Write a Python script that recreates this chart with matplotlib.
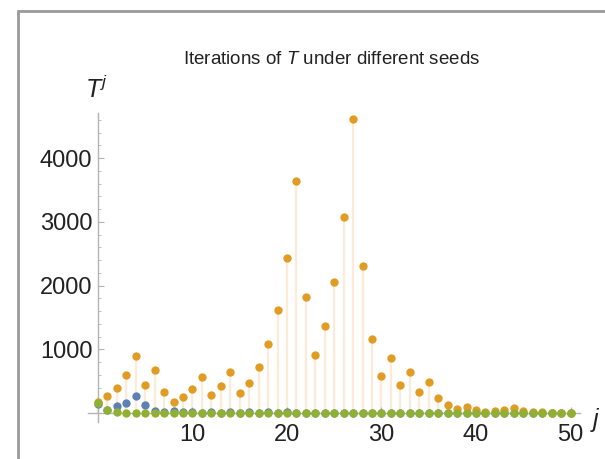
import numpy as np
import matplotlib
matplotlib.use("Agg")
import matplotlib.pyplot as plt
from matplotlib.patches import Rectangle
from matplotlib.ticker import MultipleLocator

plt.rcParams['font.family'] = ['Liberation Sans', 'DejaVu Sans']
plt.rcParams['mathtext.fontset'] = 'custom'
plt.rcParams['mathtext.rm'] = 'Liberation Sans'
plt.rcParams['mathtext.it'] = 'Liberation Sans:italic'

# iteration index
j = np.arange(0, 51)

# seed 1 (blue)
blue = [150, 55, 110, 160, 265, 120, 40, 20, 35, 15, 10, 5, 10, 5, 20, 5, 18, 5, 18, 5,
        20, 2, 4, 2, 4, 2, 4, 2, 4, 2, 4, 2, 4, 2, 4, 2, 4, 2, 4, 2,
        4, 2, 4, 2, 4, 2, 4, 2, 4, 2, 4]

# seed 2 (orange)
orange = [175, 263, 395, 593, 890, 445, 668, 334, 167, 251, 377, 566, 283, 425, 638, 319,
          479, 719, 1079, 1619, 2429, 3644, 1822, 911, 1367, 2051, 3077, 4616, 2308, 1154,
          577, 866, 433, 650, 325, 488, 244, 122, 61, 92, 46, 23, 35, 53, 80, 40, 20, 10,
          5, 8, 4]

# seed 3 (green)
green = [160, 50, 15, 6, 6, 6, 6, 6, 6, 6, 6, 6, 6, 6, 6, 6, 6, 6, 6, 6,
         6, 2, 8, 2, 8, 2, 8, 2, 8, 2, 8, 2, 8, 2, 8, 2, 8, 2, 8, 2,
         8, 2, 8, 2, 8, 2, 8, 2, 8, 2, 8]

c_blue = '#5E81B5'
c_orange = '#E19C24'
c_green = '#8FB032'

W, H = 605, 459
fig = plt.figure(figsize=(W / 100, H / 100), dpi=100)

# plot area in pixels
x0, x1 = 88, 580
y_top, y_bot = 113, 422
ax = fig.add_axes([x0 / W, (H - y_bot) / H, (x1 - x0) / W, (y_bot - y_top) / H])
ax.set_xlim(-1.05, 51.0)
ax.set_ylim(-140, 4706)
ax.patch.set_visible(False)

# filling to axis
ax.vlines(j, 0, blue, color='#E2E9F3', lw=1.5, zorder=1)
ax.vlines(j, 0, orange, color='#FCEBD6', lw=1.6, zorder=1)
ax.vlines(j, 0, green, color='#E8EFD3', lw=1.5, zorder=1)

ax.plot(j, blue, 'o', color=c_blue, ms=6.0, mew=0, zorder=3, clip_on=False)
ax.plot(j, orange, 'o', color=c_orange, ms=6.0, mew=0, zorder=4, clip_on=False)
ax.plot(j, green, 'o', color=c_green, ms=6.0, mew=0, zorder=5, clip_on=False)

for s in ['top', 'right']:
    ax.spines[s].set_visible(False)
ax.spines['left'].set_position(('data', 0))
ax.spines['bottom'].set_position(('data', 0))
for s in ['left', 'bottom']:
    ax.spines[s].set_color('#B4B4B4')
    ax.spines[s].set_linewidth(1.0)

ax.xaxis.set_major_locator(MultipleLocator(10))
ax.xaxis.set_minor_locator(MultipleLocator(2))
ax.yaxis.set_major_locator(MultipleLocator(1000))
ax.yaxis.set_minor_locator(MultipleLocator(200))
ax.set_xticks([10, 20, 30, 40, 50])
ax.set_yticks([1000, 2000, 3000, 4000])
ax.tick_params(which='both', direction='in', color='#B4B4B4', labelcolor='#222222')
ax.tick_params(which='major', length=4, width=0.8, labelsize=17)
ax.tick_params(which='minor', length=2.2, width=0.6)
ax.tick_params(axis='x', which='major', pad=8)
ax.tick_params(axis='y', which='major', pad=4)

fig.text(332 / W, 1 - 60 / H, 'Iterations of $T$ under different seeds',
         ha='center', va='center', fontsize=13.5, color='#222222')
fig.text(97 / W, 1 - 89 / H, '$T^j$', ha='center', va='center', fontsize=18, color='#222222')
fig.text(595 / W, 1 - 420 / H, '$j$', ha='center', va='center', fontsize=18, color='#222222')

# outer frame (cut off at right and bottom)
fig.add_artist(Rectangle((17.5 / W, -0.2), 2.0, 1 - 11 / H + 0.2, transform=fig.transFigure,
                         fill=False, ec='#9A9A9A', lw=2.0))

fig.savefig('out.png', dpi=100)
